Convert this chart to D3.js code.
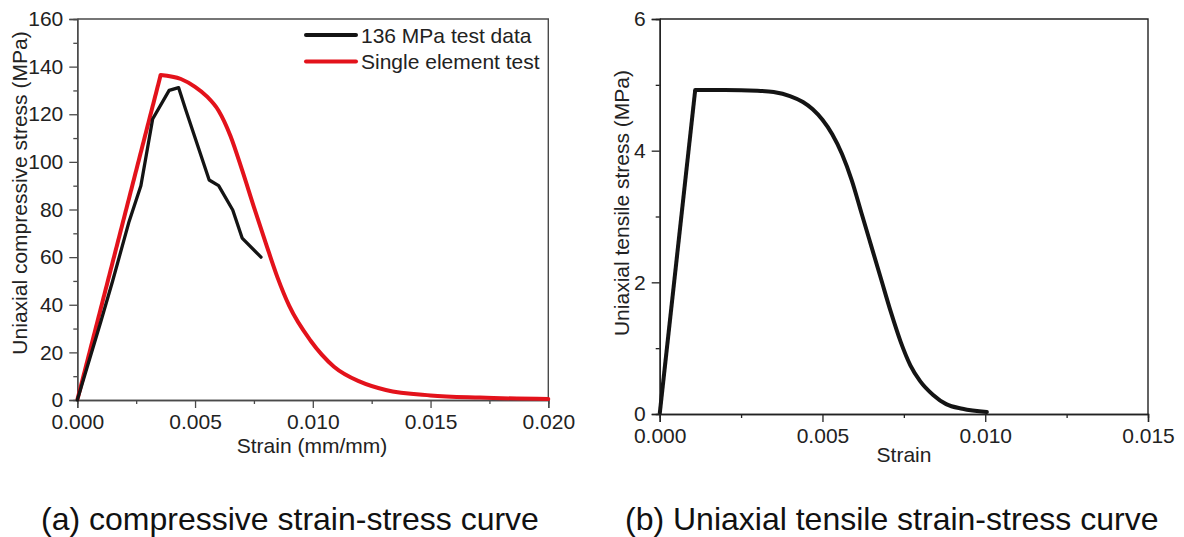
<!DOCTYPE html>
<html>
<head>
<meta charset="utf-8">
<script src="https://cdn.jsdelivr.net/npm/d3@7"></script>
<style>
  body { margin: 0; background: #fff; }
  svg { display: block; font-family: "Liberation Sans", Arial, sans-serif; }
  .tick text { fill: #222; }
</style>
</head>
<body>
<svg id="chart"></svg>
<script>
// (a) compressive: test data (black)
const testStrain = [0, 0.0010, 0.0015, 0.0022, 0.0027, 0.0032, 0.0039, 0.0043, 0.0046, 0.0056, 0.0060, 0.0066, 0.0070, 0.0078];
const testStress = [0, 33, 50, 75, 90, 118, 130, 131.2, 122, 92.4, 90, 79.8, 68, 60];

// (a) compressive: single element test (red) - rising branch + softening branch
const simRiseStrain = [0, 0.00354];
const simRiseStress = [0, 136.5];
const simFallStrain = [0.00354, 0.0044, 0.0050, 0.0055, 0.0060, 0.0065, 0.0070, 0.0075, 0.0080, 0.0085, 0.0090, 0.0099, 0.0109, 0.0120, 0.0131, 0.0150, 0.0171, 0.0200];
const simFallStress = [136.5, 134.8, 131.5, 127.5, 121.5, 111, 96.5, 81, 66, 51.5, 39.5, 25, 14, 7.7, 4.2, 1.9, 1.0, 0.4];

// (b) tensile
const tenRiseStrain = [0, 0.00109];
const tenRiseStress = [0, 4.92];
const tenFallStrain = [0.00109, 0.0020, 0.0030, 0.0035, 0.0040, 0.0044, 0.0047, 0.0050, 0.0053, 0.0056, 0.0059, 0.0062, 0.0065, 0.0068, 0.0071, 0.0074, 0.0077, 0.0080, 0.0084, 0.0088, 0.0093, 0.01005];
const tenFallStress = [4.92, 4.92, 4.91, 4.89, 4.83, 4.74, 4.63, 4.47, 4.25, 3.95, 3.55, 3.05, 2.55, 2.05, 1.55, 1.1, 0.74, 0.5, 0.29, 0.15, 0.08, 0.03];

// ticks
const aXTicks = [0, 0.005, 0.010, 0.015, 0.020];
const aXMinor = [0.0025, 0.0075, 0.0125, 0.0175];
const aYTicks = [0, 20, 40, 60, 80, 100, 120, 140, 160];
const aYMinor = [10, 30, 50, 70, 90, 110, 130, 150];
const bXTicks = [0, 0.005, 0.010, 0.015];
const bXMinor = [0.0025, 0.0075, 0.0125];
const bYTicks = [0, 2, 4, 6];
const bYMinor = [1, 3, 5];

const legendNames = ["136 MPa test data", "Single element test"];
const captions = ["(a) compressive strain-stress curve", "(b) Uniaxial tensile strain-stress curve"];

const W = 1184, H = 537;
const RED = "#e3121b", BLACK = "#141414";

const svg = d3.select("#chart").attr("width", W).attr("height", H);
svg.append("rect").attr("width", W).attr("height", H).attr("fill", "#fff");

const zip = (xs, ys) => xs.map((x, i) => [x, ys[i]]);

function drawPanel(o) {
  const x = d3.scaleLinear().domain(o.xDomain).range([o.left, o.right]);
  const y = d3.scaleLinear().domain(o.yDomain).range([o.bottom, o.top]);

  // frame (top/right)
  svg.append("path")
    .attr("d", `M${o.left},${o.top}H${o.right}V${o.bottom}`)
    .attr("fill", "none").attr("stroke", o.axisColor).attr("stroke-width", 1.4);

  const styleAxis = (g) => {
    g.selectAll(".domain").attr("stroke", o.axisColor).attr("stroke-width", 1.4);
    g.selectAll(".tick line").attr("stroke", o.axisColor).attr("stroke-width", 1.3);
    g.selectAll(".tick text").attr("font-size", 21).attr("font-family", "Liberation Sans, Arial, sans-serif");
  };

  svg.append("g").attr("transform", `translate(0,${o.bottom})`)
    .call(d3.axisBottom(x).tickValues(o.xMinor).tickSize(4).tickFormat(""))
    .call(styleAxis);
  svg.append("g").attr("transform", `translate(0,${o.bottom})`)
    .call(d3.axisBottom(x).tickValues(o.xTicks).tickSize(8).tickPadding(6).tickFormat(d3.format(".3f")))
    .call(styleAxis);

  svg.append("g").attr("transform", `translate(${o.left},0)`)
    .call(d3.axisLeft(y).tickValues(o.yMinor).tickSize(4).tickFormat(""))
    .call(styleAxis);
  svg.append("g").attr("transform", `translate(${o.left},0)`)
    .call(d3.axisLeft(y).tickValues(o.yTicks).tickSize(8).tickPadding(6).tickFormat(d3.format("d")))
    .call(styleAxis);

  // axis titles
  svg.append("text")
    .attr("x", o.xTitleX).attr("y", o.xTitleY)
    .attr("text-anchor", "middle").attr("font-size", 21).attr("fill", "#222")
    .text(o.xTitle);
  svg.append("text")
    .attr("transform", `translate(${o.yTitleX},${o.yTitleY}) rotate(-90)`)
    .attr("text-anchor", "middle").attr("font-size", 21).attr("fill", "#222")
    .text(o.yTitle);

  return { x, y };
}

// ---- panel (a)
const a = drawPanel({
  left: 77.3, right: 548.3, top: 19, bottom: 400,
  xDomain: [0, 0.02], yDomain: [0, 160],
  xTicks: aXTicks, xMinor: aXMinor, yTicks: aYTicks, yMinor: aYMinor,
  axisColor: "#4a4a4a",
  xTitle: "Strain (mm/mm)", xTitleX: 312, xTitleY: 453,
  yTitle: "Uniaxial compressive stress (MPa)", yTitleX: 27, yTitleY: 193
});

const lineA = d3.line().x(d => a.x(d[0])).y(d => a.y(d[1]));
const lineASmooth = d3.line().x(d => a.x(d[0])).y(d => a.y(d[1])).curve(d3.curveMonotoneX);

svg.append("path").datum(zip(simRiseStrain, simRiseStress))
  .attr("d", lineA).attr("fill", "none").attr("stroke", RED).attr("stroke-width", 4).attr("stroke-linejoin", "round");
svg.append("path").datum(zip(simFallStrain, simFallStress))
  .attr("d", lineASmooth).attr("fill", "none").attr("stroke", RED).attr("stroke-width", 4).attr("stroke-linecap", "round");
svg.append("path").datum(zip(testStrain, testStress))
  .attr("d", lineA).attr("fill", "none").attr("stroke", BLACK).attr("stroke-width", 3.3)
  .attr("stroke-linejoin", "round").attr("stroke-linecap", "round");

// legend
const legend = svg.append("g");
[BLACK, RED].forEach((c, i) => {
  legend.append("line")
    .attr("x1", 306).attr("x2", 356).attr("y1", 35 + i * 26.5).attr("y2", 35 + i * 26.5)
    .attr("stroke", c).attr("stroke-width", 4).attr("stroke-linecap", "round");
  legend.append("text")
    .attr("x", 361).attr("y", 42.5 + i * 26.5).attr("font-size", 21).attr("fill", "#222")
    .text(legendNames[i]);
});

// ---- panel (b)
const b = drawPanel({
  left: 659.7, right: 1148, top: 19, bottom: 414,
  xDomain: [0, 0.015], yDomain: [0, 6],
  xTicks: bXTicks, xMinor: bXMinor, yTicks: bYTicks, yMinor: bYMinor,
  axisColor: "#222",
  xTitle: "Strain", xTitleX: 904, xTitleY: 462,
  yTitle: "Uniaxial tensile stress (MPa)", yTitleX: 629, yTitleY: 203
});

const lineB = d3.line().x(d => b.x(d[0])).y(d => b.y(d[1]));
const lineBSmooth = d3.line().x(d => b.x(d[0])).y(d => b.y(d[1])).curve(d3.curveMonotoneX);

svg.append("path").datum(zip(tenRiseStrain, tenRiseStress))
  .attr("d", lineB).attr("fill", "none").attr("stroke", BLACK).attr("stroke-width", 4).attr("stroke-linejoin", "round");
svg.append("path").datum(zip(tenFallStrain, tenFallStress))
  .attr("d", lineBSmooth).attr("fill", "none").attr("stroke", BLACK).attr("stroke-width", 4).attr("stroke-linecap", "round");

// captions
svg.append("text").attr("x", 41).attr("y", 530).attr("font-size", 32).attr("fill", "#111").text(captions[0]);
svg.append("text").attr("x", 625).attr("y", 530).attr("font-size", 32).attr("fill", "#111").text(captions[1]);
</script>
</body>
</html>
